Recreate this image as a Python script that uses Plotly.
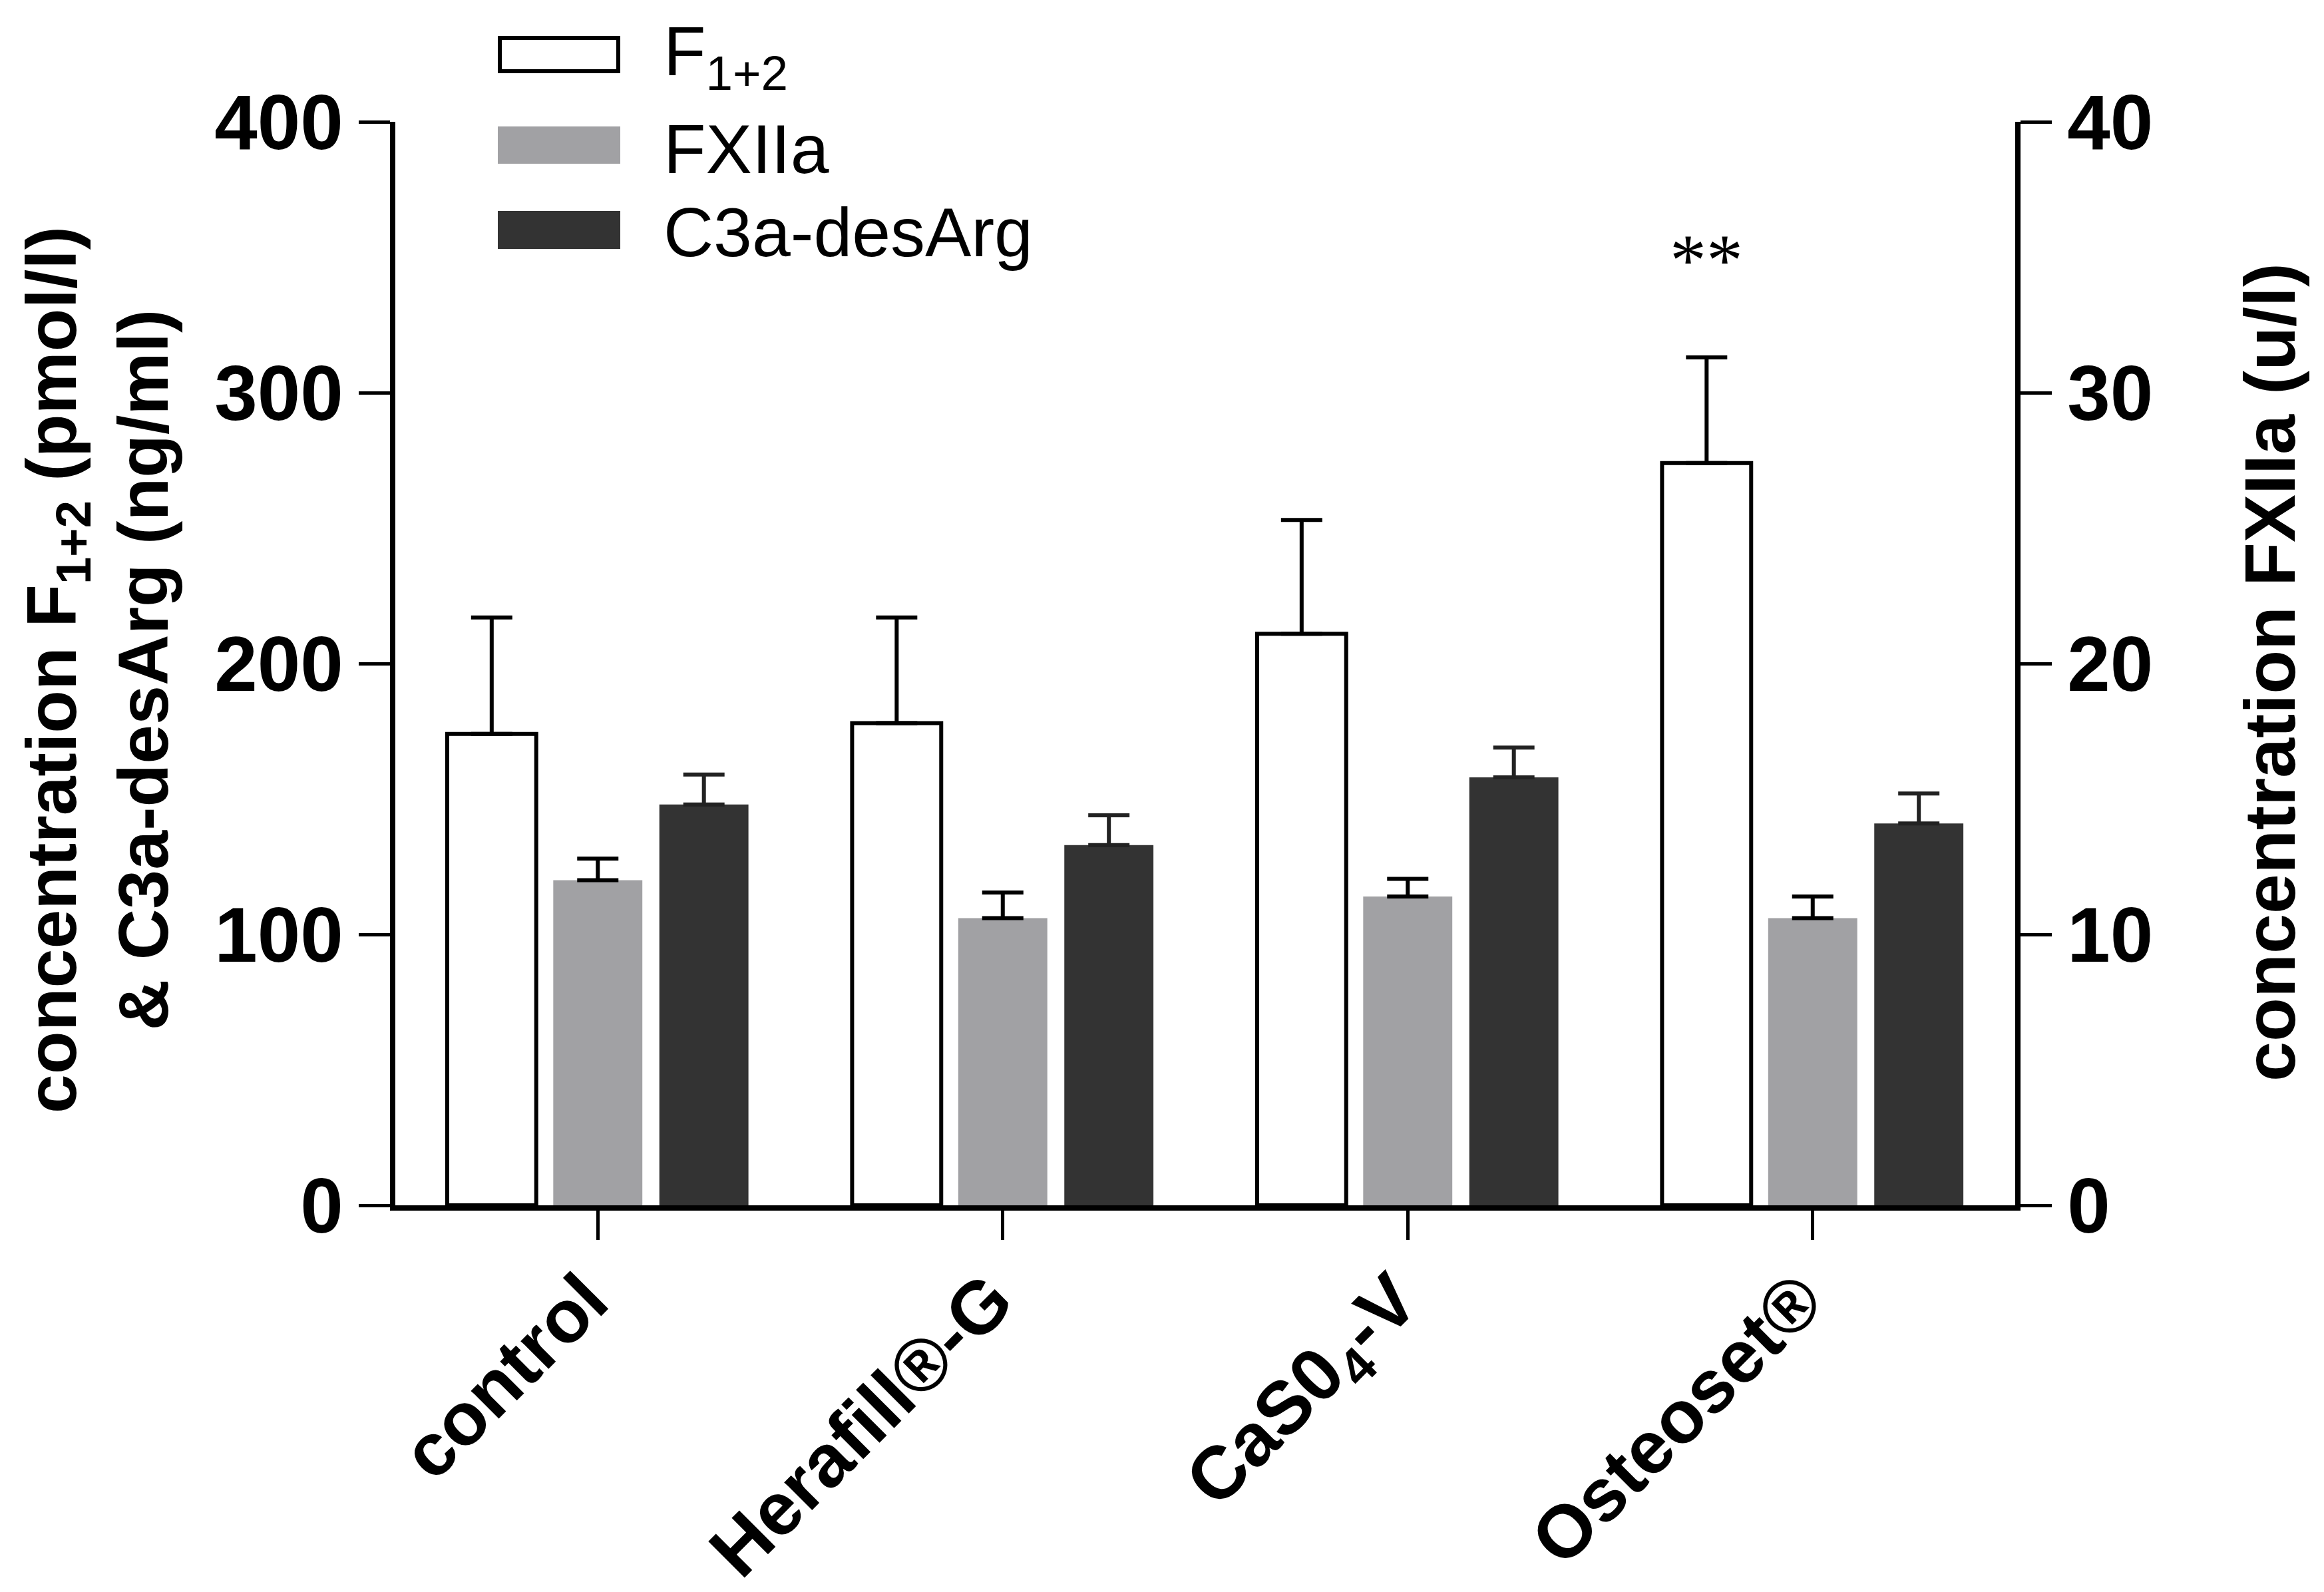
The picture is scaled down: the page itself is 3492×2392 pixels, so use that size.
import plotly.graph_objects as go

# data
groups = ["control", "Herafill®-G", "CaS0<sub>4</sub>-V", "Osteoset®"]

f12_mean = [174, 178, 211, 274]
f12_err = [43, 39, 42, 39]

fxiia_mean = [12.0, 10.6, 11.4, 10.6]
fxiia_err = [0.8, 0.95, 0.65, 0.8]

c3a_mean = [148, 133, 158, 141]
c3a_err = [11, 11, 11, 11]

series_names = ["F<sub>1+2</sub>", "FXIIa", "C3a-desArg"]
series_colors = ["#ffffff", "#a1a1a4", "#333333"]

star_label = "**"
star_group = 3
star_y = 349

W, H = 3492, 2392
L, R, T, B = 594, 3028, 183, 1811   # plot box on screen
OFF = 8                             # page body margin shifts the figure

slot = 0.262
bw = 0.22


def px_x(p):
    return (p - L) / (R - L)


def px_y(p):
    return (B - p) / (B - T)


def err(vals):
    return dict(type="data", array=vals, arrayminus=[0] * len(vals), symmetric=False,
                color="black", thickness=6, width=31)


fig = go.Figure()

fig.add_trace(
    go.Bar(
        x=groups, y=f12_mean, name=series_names[0],
        width=bw, offset=-slot - bw / 2,
        marker=dict(color=series_colors[0], line=dict(color="black", width=6)),
        error_y=err(f12_err), showlegend=False,
    )
)
fig.add_trace(
    go.Bar(
        x=groups, y=fxiia_mean, name=series_names[1], yaxis="y2",
        width=bw, offset=-bw / 2,
        marker=dict(color=series_colors[1], line=dict(width=0)),
        error_y=err(fxiia_err), showlegend=False,
    )
)
fig.add_trace(
    go.Bar(
        x=groups, y=c3a_mean, name=series_names[2],
        width=bw, offset=slot - bw / 2,
        marker=dict(color=series_colors[2], line=dict(width=0)),
        error_y=dict(err(c3a_err), color="#222222"), showlegend=False,
    )
)

# significance mark over the Osteoset F1+2 bar
fig.add_annotation(
    x=star_group - slot, y=star_y, xref="x", yref="y",
    text=star_label, showarrow=False, xanchor="center", yanchor="middle",
    font=dict(family="Liberation Serif", size=110, color="black"),
)

# hand-made legend (plotly's own swatches are too small)
legend_rows = [(57, 107, 84), (193, 243, 224), (320, 371, 349)]
for (y0, y1, yc), name, col in zip(legend_rows, series_names, series_colors):
    fig.add_shape(
        type="rect", xref="paper", yref="paper",
        x0=px_x(751), x1=px_x(929), y0=px_y(y1), y1=px_y(y0),
        fillcolor=col,
        line=dict(color="black" if col == "#ffffff" else col, width=6),
    )
    fig.add_annotation(
        x=px_x(995), y=px_y(yc), xref="paper", yref="paper",
        text=name, showarrow=False, xanchor="left", yanchor="middle",
        font=dict(family="Liberation Sans", size=104, color="black"),
    )

# axis titles
fig.add_annotation(
    x=px_x(146), y=px_y(1007), xref="paper", yref="paper",
    text="concentration F<sub>1+2</sub> (pmol/l)<br>& C3a-desArg (ng/ml)",
    textangle=-90, showarrow=False, xanchor="center", yanchor="middle",
    font=dict(family="Liberation Sans", size=106, color="black", weight="bold"),
)
fig.add_annotation(
    x=px_x(3410), y=px_y(1010), xref="paper", yref="paper",
    text="concentration FXIIa (u/l)",
    textangle=-90, showarrow=False, xanchor="center", yanchor="middle",
    font=dict(family="Liberation Sans", size=108, color="black", weight="bold"),
)

axis_common = dict(
    showline=True, linecolor="black", linewidth=8,
    ticks="outside", ticklen=47, tickwidth=5, tickcolor="black",
    showgrid=False, zeroline=False, automargin=False,
    tickfont=dict(family="Liberation Sans", size=116, color="black", weight="bold"),
)

fig.update_layout(
    width=W,
    height=H,
    margin=dict(l=L - OFF, r=W - R + OFF, t=T - OFF, b=H - B + OFF),
    paper_bgcolor="white",
    plot_bgcolor="white",
    barmode="overlay",
    xaxis=dict(
        showline=True, linecolor="black", linewidth=8,
        ticks="outside", ticklen=44, tickwidth=5, tickcolor="black",
        showgrid=False, zeroline=False, automargin=False, tickangle=-45,
        ticklabelshift=-18, ticklabelstandoff=-20,
        range=[-0.5, 3.5],
        tickfont=dict(family="Liberation Sans", size=112, color="black", weight="bold"),
    ),
    yaxis=dict(range=[0, 400], dtick=100, **axis_common),
    yaxis2=dict(range=[0, 40], dtick=10, overlaying="y", side="right", **axis_common),
)

fig.write_html("out.html")
